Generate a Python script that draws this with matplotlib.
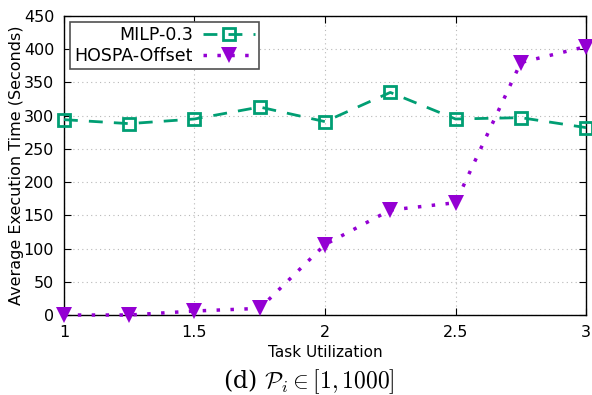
import matplotlib.pyplot as plt
import numpy as np

plt.rcParams['mathtext.fontset'] = 'cm'

utilization = [1.0, 1.25, 1.5, 1.75, 2.0, 2.25, 2.5, 2.75, 3.0]
milp = [294, 288, 295, 313, 291, 335, 295, 297, 282]
hospa = [0, 0, 6, 10, 106, 158, 169, 380, 404]

green = '#009e73'
purple = '#9400d3'

fig = plt.figure(figsize=(5.92, 3.95), dpi=100)
ax = fig.add_axes([0.108, 0.2025, 0.882, 0.757])

ax.plot(utilization, milp, color=green, linestyle=(0, (5, 4)), linewidth=2,
        marker='s', markersize=9, markerfacecolor='none', markeredgewidth=2,
        label='MILP-0.3', clip_on=False, zorder=3)
ax.plot(utilization, hospa, color=purple, linestyle=(0, (1, 3)), linewidth=2.5,
        marker='v', markersize=11, markeredgewidth=0,
        label='HOSPA-Offset', clip_on=False, zorder=4)

ax.set_xlim(1, 3)
ax.set_ylim(0, 450)
ax.set_xticks([1, 1.5, 2, 2.5, 3])
ax.set_xticklabels(['1', '1.5', '2', '2.5', '3'])
ax.set_yticks(np.arange(0, 451, 50))
ax.tick_params(direction='in', top=True, right=True, labelsize=11.5, length=5, pad=7)
ax.grid(True, color='#b8b8b8', linestyle=(0, (1, 3)), linewidth=0.8)
for s in ax.spines.values():
    s.set_linewidth(1)

ax.set_xlabel('Task Utilization', fontsize=11, labelpad=4)
ax.set_ylabel('Average Execution Time (Seconds)', fontsize=11.5, labelpad=0)

leg = ax.legend(loc='upper left', markerfirst=False, fontsize=12.5, handlelength=3,
                fancybox=False, framealpha=1, edgecolor='#505050',
                borderpad=0.25, labelspacing=0.15, handletextpad=0.6,
                borderaxespad=0, bbox_to_anchor=(0.0115, 0.98))
leg.get_frame().set_linewidth(1.2)
for t in leg.get_texts():
    t.set_ha('right')

fig.text(0.522, 0.033, r'(d) $\mathcal{P}_i \in [1, 1000]$', ha='center', va='center',
         fontsize=17, family='serif', math_fontfamily='cm')

fig.savefig('out.png', dpi=100)
